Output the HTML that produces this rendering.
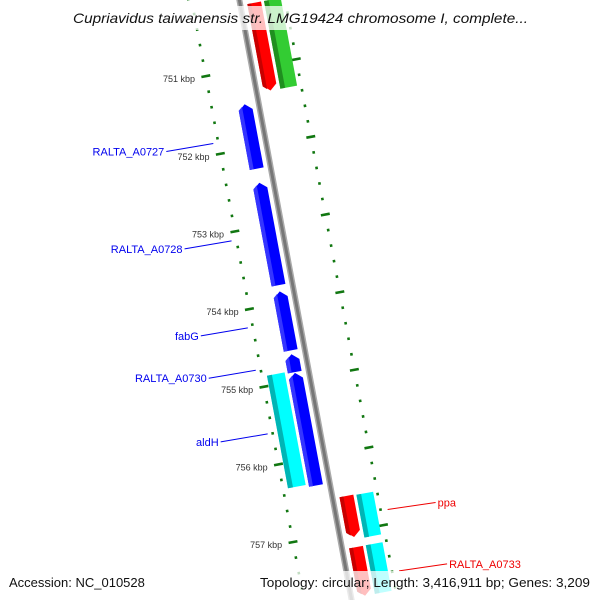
<!DOCTYPE html>
<html><head><meta charset="utf-8"><style>
html,body{margin:0;background:#fff;width:600px;height:600px;overflow:hidden}
svg{display:block;font-family:"Liberation Sans",sans-serif;overflow:hidden}
</style></head><body>
<svg id="map" width="600" height="600" viewBox="0 0 600 600" xmlns="http://www.w3.org/2000/svg">
<defs><clipPath id="frame"><rect width="600" height="600"/></clipPath></defs>
<rect width="600" height="600" fill="#fff"/>
<g clip-path="url(#frame)">
<g id="ticks"></g>
<g id="backbone"></g>
<g id="genes"></g>
<g id="labels"></g>
</g>
<rect x="66" y="6" width="470" height="24" fill="#fff" opacity="0.75"/>
<text x="73" y="23" textLength="455" lengthAdjust="spacingAndGlyphs" font-size="14" font-style="italic" fill="#111">Cupriavidus taiwanensis str. LMG19424 chromosome I, complete...</text>
<rect x="0" y="571" width="600" height="29" fill="#fff" opacity="0.75"/>
<text x="9" y="587" font-size="13" fill="#111">Accession: NC_010528</text>
<text x="260" y="587" font-size="13" textLength="330" lengthAdjust="spacingAndGlyphs" fill="#111">Topology: circular; Length: 3,416,911 bp; Genes: 3,209</text>
</svg>
<script>
const geneNames = ["top-red","top-green","RALTA_A0727","RALTA_A0728","fabG","RALTA_A0730","blue-large","aldH","ppa","cyan-outer-1","RALTA_A0733","cyan-outer-2"];
const geneStarts = [750.2,750.2,751.44,752.45,753.85,754.66,754.9,754.87,756.55,756.56,757.21,757.21];
const geneEnds   = [751.33,751.33,752.27,753.77,754.61,754.89,756.35,756.32,757.08,757.11,758.0,758.0];
const geneStrands = [1,0,-1,-1,-1,-1,-1,0,1,0,1,0];
const geneTracks = [1,2,-1,-1,-1,-1,-1,-2,1,2,1,2];
const geneColors = ["red","green","blue","blue","blue","blue","blue","cyan","red","cyan","red","cyan"];
const labelGenes = ["RALTA_A0727","RALTA_A0728","fabG","RALTA_A0730","aldH","ppa","RALTA_A0733"];
const labelTexts = ["RALTA_A0727","RALTA_A0728","fabG","RALTA_A0730","aldH","ppa","RALTA_A0733"];
const tickKbp = [751,752,753,754,755,756,757];
const tickMin = 750.0, tickMax = 758.0;

const NS="http://www.w3.org/2000/svg";
const th=10.6*Math.PI/180, C=Math.cos(th), S=Math.sin(th);
const O=[252,67.5], PX=79;
function uScale(k){return (k-751)*PX;}
function P(u,r){return [O[0]+r*C+u*S, O[1]-r*S+u*C];}
function pts(a){return a.map(p=>P(p[0],p[1]).map(v=>v.toFixed(1)).join(',')).join(' ');}
function mk(tag,attrs,parent){const e=document.createElementNS(NS,tag);for(const k in attrs)e.setAttribute(k,attrs[k]);parent.appendChild(e);return e;}

const tg=document.getElementById('ticks');
for(let i=0;i<=Math.round((tickMax-tickMin)*5);i++){
  const k=tickMin+i*0.2, u=uScale(k);
  const major=Math.abs(k-Math.round(k))<1e-6;
  [-47,45].forEach(rc=>{
    const hl=major?4.5:1.3;
    const a=P(u,rc-hl), b=P(u,rc+hl);
    const l=mk('line',{x1:a[0],y1:a[1],x2:b[0],y2:b[1],stroke:'#117711','stroke-width':2.6},tg);
    
    
  });
}
tickKbp.forEach(k=>{
  const p=P(uScale(k),-58);
  const t=mk('text',{x:p[0],y:p[1]+4,'text-anchor':'end','font-size':'9',fill:'#333'},tg);
  t.textContent=k+' kbp';
  
  
});

const bg=document.getElementById('backbone');
const b1=P(-80,0), b2=P(545,0);
const bb1=mk('line',{x1:b1[0],y1:b1[1],x2:b2[0],y2:b2[1],stroke:'#aaa','stroke-width':6},bg);


mk('line',{x1:b1[0],y1:b1[1],x2:b2[0],y2:b2[1],stroke:'#777','stroke-width':3},bg);

const fills={red:['#ff0000','#c80000'],green:['#33cc33','#1f8f1f'],blue:['#0000ff','#3535ff'],cyan:['#00ffff','#00b5b5']};
const trackR={1:[7,21],2:[24,41],'-1':[-21,-7],'-2':[-42,-24]};
const gg=document.getElementById('genes');
geneNames.forEach((n,i)=>{
  const u1=uScale(geneStarts[i]), u2=Math.min(uScale(geneEnds[i]),540);
  const [ra,rb]=trackR[geneTracks[i]], rm=(ra+rb)/2, h=6;
  let poly;
  if(geneStrands[i]===-1) poly=[[u1+h,ra],[u1,rm],[u1+h,rb],[u2,rb],[u2,ra]];
  else if(geneStrands[i]===1) poly=[[u1,ra],[u1,rb],[u2-h,rb],[u2,rm],[u2-h,ra]];
  else poly=[[u1,ra],[u1,rb],[u2,rb],[u2,ra]];
  const f=fills[geneColors[i]];
  const g=mk('g',{},gg);
  
  
  mk('polygon',{points:pts(poly),fill:f[0]},g);
  const sw=(rb-ra)*0.28, sa=ra, sb=ra+sw;
  let strip;
  if(geneStrands[i]===-1) strip=[[u1+h*0.9,sa],[u1+h*0.35,sb],[u2,sb],[u2,sa]];
  else if(geneStrands[i]===1) strip=[[u1,sa],[u1,sb],[u2-h*0.35,sb],[u2-h*0.9,sa]];
  else strip=[[u1,sa],[u1,sb],[u2,sb],[u2,sa]];
  mk('polygon',{points:pts(strip),fill:f[1]},g);
});

const lg=document.getElementById('labels');
labelGenes.forEach((n,j)=>{
  const i=geneNames.indexOf(n);
  const u=(uScale(geneStarts[i])+uScale(geneEnds[i]))/2;
  const inner=geneTracks[i]<0;
  const col=inner?'#0000ee':'#ee0000';
  const a=P(u,inner?-52:52);
  const bx=inner?a[0]-47:a[0]+48, by=a[1]+(inner?8:-7);
  const l=mk('line',{x1:a[0],y1:a[1],x2:bx,y2:by,stroke:col,'stroke-width':1},lg);
  
  
  const t=mk('text',{x:inner?bx-2:bx+2,y:by+4,'text-anchor':inner?'end':'start','font-size':'11',fill:col},lg);
  t.textContent=labelTexts[j];
  
  
});
</script>
</body></html>
